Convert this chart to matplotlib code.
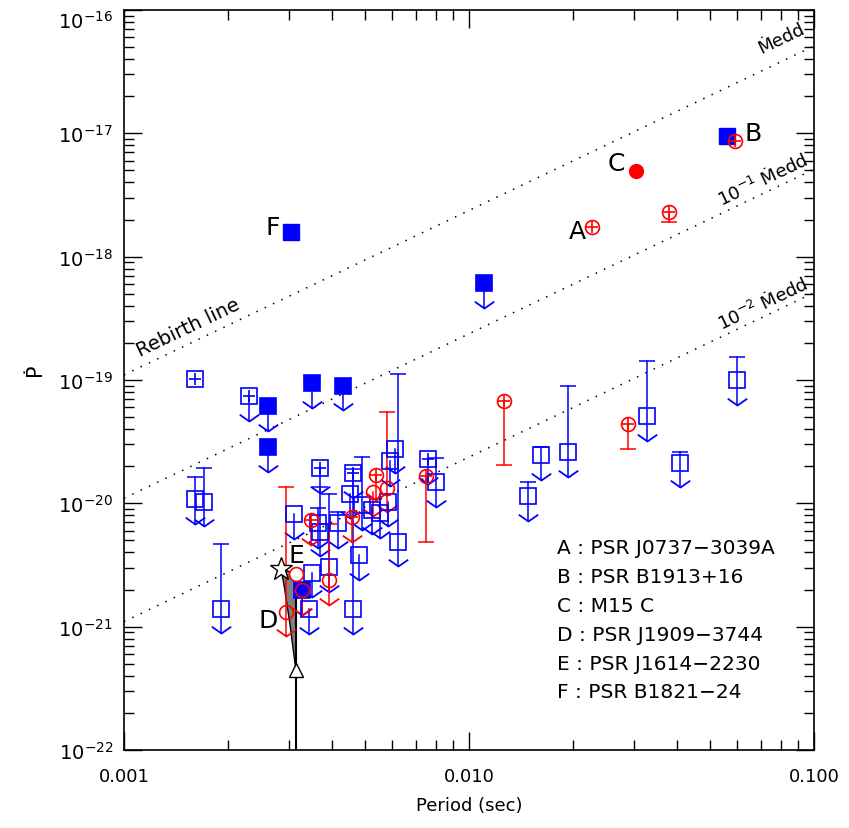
import numpy as np
import matplotlib.pyplot as plt
from matplotlib.path import Path
from matplotlib.ticker import LogLocator, FixedLocator, FixedFormatter, NullFormatter

plt.rcParams['font.family'] = ['DejaVu Sans']
plt.rcParams['mathtext.fontset'] = 'dejavusans'

# periods in ms, period derivatives in s/s

# blue filled squares, measured
bf_p = [3.05, 56.1]
bf_pdot = [1.59e-18, 9.5e-18]

# blue filled squares, upper limits
bfu_p = [11.05, 2.61, 2.61, 3.51, 4.31, 3.28]
bfu_pdot = [6.1e-19, 6.1e-20, 2.84e-20, 9.4e-20, 9.0e-20, 1.98e-21]

# red filled circle (M15 C)
rf_p = [30.5]
rf_pdot = [4.95e-18]

# red open circles, measured (lower error end, 0 = none)
rm_p = [22.7, 59.0, 38.0, 12.66, 28.95, 7.49]
rm_pdot = [1.75e-18, 8.6e-18, 2.31e-18, 6.8e-20, 4.4e-20, 1.66e-20]
rm_low = [0, 0, 1.92e-18, 2.04e-20, 2.75e-20, 4.82e-21]

# red open circles, upper limits (top of error bar, 0 = none)
ru_p = [2.95, 3.28, 3.48, 3.93, 4.58, 5.38, 5.28, 5.77]
ru_pdot = [1.32e-21, 1.98e-21, 7.3e-21, 2.38e-21, 7.77e-21, 1.69e-20, 1.24e-20, 1.34e-20]
ru_top = [1.36e-20, 0, 0, 6.8e-21, 0, 0, 0, 5.52e-20]
ru_plus = [0, 0, 1, 0, 1, 1, 0, 0]

# blue open squares, measured
bm_p = [1.607]
bm_pdot = [1.02e-19]

# blue open squares, upper limits
bu_p = [2.31, 1.607, 1.71, 1.91, 3.11, 3.51, 3.44, 3.71, 3.65, 3.70, 3.93,
        4.18, 4.62, 4.62, 4.52, 4.81, 4.91, 5.22, 5.52, 5.84, 5.90, 6.10,
        6.23, 7.62, 8.02, 14.83, 16.14, 19.40, 32.88, 40.9, 59.95]
bu_pdot = [7.44e-20, 1.08e-20, 1.03e-20, 1.40e-21, 8.2e-21, 2.74e-21, 1.39e-21,
           1.92e-20, 6.9e-21, 5.9e-21, 3.05e-21, 6.9e-21, 1.39e-21, 1.75e-20,
           1.20e-20, 3.8e-21, 9.7e-21, 8.9e-21, 8.3e-21, 1.03e-20, 2.2e-20,
           2.77e-20, 4.9e-21, 2.27e-20, 1.48e-20, 1.15e-20, 2.46e-20, 2.6e-20,
           5.1e-20, 2.13e-20, 1.0e-19]
bu_top = [0, 1.62e-20, 1.92e-20, 4.72e-21, 0, 0, 0, 0, 9.1e-21, 1.36e-20, 1.20e-20,
          8.5e-21, 1.9e-20, 0, 0, 0, 2.38e-20, 0, 0, 0, 0, 0, 1.11e-19, 0,
          2.34e-20, 1.49e-20, 2.87e-20, 8.97e-20, 1.43e-19, 2.62e-20, 1.54e-19]
bu_plus = [1, 0, 0, 0, 0, 0, 0, 1, 0, 0, 0, 0, 0, 1, 0, 0, 0, 0, 0, 0, 0, 0,
           0, 1, 0, 0, 0, 0, 0, 0, 0]

# PSR J1614-2230 (E): starting point and track down to the triangle
e_p, e_pdot = 3.15, 2.67e-21
star_p, star_pdot = 2.85, 2.96e-21
track_p = [2.85, 2.91, 2.97, 3.03, 3.09, 3.15]
track_pdot = [2.96e-21, 2.17e-21, 1.49e-21, 1.03e-21, 6.69e-22, 4.44e-22]

# spin-up lines, Pdot at P = 1 ms, slope 4/3
line_norm = [1.1e-19, 1.1e-20, 1.1e-21]
line_p = [0.001, 0.1]

legend_lines = ['A : PSR J0737\u22123039A', 'B : PSR B1913+16', 'C : M15 C',
                'D : PSR J1909\u22123744', 'E : PSR J1614\u22122230', 'F : PSR B1821\u221224']

MDOT = '\u1e40edd'
ARROW = 10 ** -0.2
vhead = Path([(-1.0, 0.7), (0.0, 0.0), (1.0, 0.7)], [Path.MOVETO, Path.LINETO, Path.LINETO])

fig = plt.figure(figsize=(8.49, 8.29), dpi=100)
ax = fig.add_axes([124 / 849, 1 - 751 / 829, 690 / 849, 740 / 829])
ax.set_xscale('log')
ax.set_yscale('log')
ax.set_xlim(0.001, 0.1)
ax.set_ylim(1e-22, 1e-16)

# dotted lines
for n in line_norm:
    lp = np.array(line_p)
    ax.plot(lp, n * (lp / 0.001) ** (4 / 3), color='black', lw=1.1,
            linestyle=(0, (1, 5)), zorder=1)


def upper_limits(p, pdot, top, plus, color, marker, ms, fill):
    for i in range(len(p)):
        x = p[i] / 1000
        y0 = top[i] if top[i] else pdot[i]
        ax.plot([x, x], [y0, pdot[i] * ARROW], color=color, lw=1.1, zorder=2)
        if top[i]:
            ax.plot(x, top[i], marker='_', ms=11, mew=1.1, color=color, zorder=2)
        ax.plot(x, pdot[i] * ARROW, marker=vhead, ms=14, mew=1.3, mec=color,
                mfc='none', linestyle='none', zorder=2)
        ax.plot(x, pdot[i], marker=marker, ms=ms, mfc=fill, mec=color, mew=1.2,
                linestyle='none', zorder=3)
        if plus[i]:
            ax.plot(x, pdot[i], marker='+', ms=ms * 0.8, mew=1.2, color=color,
                    linestyle='none', zorder=3)


# blue points
upper_limits(bu_p, bu_pdot, bu_top, bu_plus, 'blue', 's', 11, 'none')
ax.plot(np.array(bm_p) / 1000, bm_pdot, 's', ms=11, mfc='none', mec='blue', mew=1.2, zorder=3)
ax.plot(np.array(bm_p) / 1000, bm_pdot, '+', ms=9, mew=1.2, color='blue', zorder=3)
upper_limits(bfu_p, bfu_pdot, [0] * len(bfu_p), [0] * len(bfu_p), 'blue', 's', 11, 'blue')
ax.plot(np.array(bf_p) / 1000, bf_pdot, 's', ms=11, color='blue', zorder=3)

# E track
tp = list(track_p) + [e_p]
tpd = list(track_pdot) + [e_pdot]
ax.fill(np.array(tp) / 1000, tpd, facecolor='gray', edgecolor='black', lw=1, zorder=2)
ax.plot([e_p / 1000, e_p / 1000], [e_pdot, 1e-23], color='black', lw=1.5, zorder=2)
ax.plot(track_p[-1] / 1000, track_pdot[-1], '^', ms=10, mfc='white', mec='black', mew=1, zorder=4)
ax.plot(star_p / 1000, star_pdot, '*', ms=17, mfc='white', mec='black', mew=1, zorder=4)

# red points
upper_limits(ru_p, ru_pdot, ru_top, ru_plus, 'red', 'o', 10, 'none')
for i in range(len(rm_p)):
    x = rm_p[i] / 1000
    if rm_low[i]:
        ax.plot([x, x], [rm_pdot[i], rm_low[i]], color='red', lw=1.1, zorder=2)
        ax.plot(x, rm_low[i], marker='_', ms=11, mew=1.1, color='red', zorder=2)
    ax.plot(x, rm_pdot[i], 'o', ms=10, mfc='none', mec='red', mew=1.2, zorder=3)
    ax.plot(x, rm_pdot[i], '+', ms=8, mew=1.2, color='red', zorder=3)
ax.plot(e_p / 1000, e_pdot, 'o', ms=10, mfc='white', mec='red', mew=1.2, zorder=4)
ax.plot(np.array(rf_p) / 1000, rf_pdot, 'o', ms=10, color='red', zorder=3)

# point labels
lab = dict(fontsize=18, ha='center', va='center')
ax.text(0.02056, 1.61e-18, 'A', **lab)
ax.text(0.0665, 1.0e-17, 'B', **lab)
ax.text(0.0267, 5.74e-18, 'C', **lab)
ax.text(0.002615, 1.13e-21, 'D', **lab)
ax.text(0.00317, 3.8e-21, 'E', **lab)
ax.text(0.0027, 1.74e-18, 'F', **lab)

# line labels
ang = 25.5
ax.text(0.00153, 2.7e-19, 'Rebirth line', fontsize=14, rotation=ang, ha='center', va='center')
ax.text(0.0805, 6.0e-17, MDOT, fontsize=13, rotation=ang, ha='center', va='center')
ax.text(0.0707, 4.3e-18, '10$^{-1}$ ' + MDOT, fontsize=13, rotation=ang, ha='center', va='center')
ax.text(0.0707, 4.3e-19, '10$^{-2}$ ' + MDOT, fontsize=13, rotation=ang, ha='center', va='center')

# legend text
for i, s in enumerate(legend_lines):
    ax.text(0.6275, 0.273 - i * 0.0389, s, transform=ax.transAxes, fontsize=14.5,
            ha='left', va='center')

# ticks
ax.xaxis.set_major_locator(FixedLocator([0.001, 0.01, 0.1]))
ax.xaxis.set_major_formatter(FixedFormatter(['0.001', '0.010', '0.100']))
ax.xaxis.set_minor_locator(LogLocator(base=10, subs=np.arange(2, 10)))
ax.xaxis.set_minor_formatter(NullFormatter())
ax.yaxis.set_major_locator(FixedLocator([1e-22, 1e-21, 1e-20, 1e-19, 1e-18, 1e-17, 1e-16]))
ax.yaxis.set_major_formatter(FixedFormatter(['$10^{-22}$', '$10^{-21}$', '$10^{-20}$', '$10^{-19}$',
                                             '$10^{-18}$', '$10^{-17}$', '$10^{-16}$']))
ax.yaxis.set_minor_locator(LogLocator(base=10, subs=np.arange(2, 10)))
ax.yaxis.set_minor_formatter(NullFormatter())
ax.tick_params(which='both', direction='in', top=True, right=True, width=1)
ax.tick_params(axis='x', labelsize=13, pad=12)
ax.tick_params(axis='y', labelsize=14, pad=8)
ax.tick_params(which='major', length=13)
ax.tick_params(which='minor', length=7)
for s in ax.spines.values():
    s.set_linewidth(1.2)
# keep the top label inside the figure
ax.yaxis.get_major_ticks()[-1].label1.set_verticalalignment('top')

ax.set_xlabel('Period (sec)', fontsize=13, labelpad=8)
fig.text(35 / 849, 1 - 370 / 829, '\u1e56', fontsize=15, rotation=90,
         ha='center', va='center')

fig.savefig('out.png', dpi=100)
